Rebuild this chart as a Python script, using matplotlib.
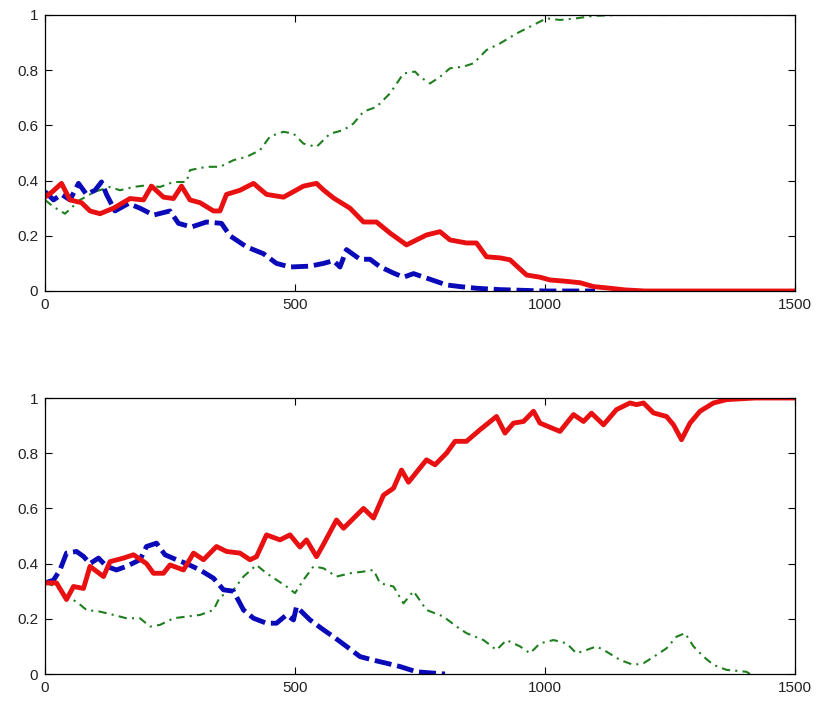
import matplotlib
matplotlib.use("Agg")
import matplotlib.pyplot as plt

# ---- top panel ----
top_red_x = [0, 15, 33, 50, 73, 90, 110, 137, 170, 197, 213, 237, 257, 273, 290, 310, 337, 350,
             363, 390, 417, 443, 477, 497, 517, 543, 557, 577, 610, 637, 663, 690, 723, 743, 763,
             790, 810, 843, 863, 883, 910, 930, 963, 990, 1010, 1043, 1070, 1097, 1130, 1160,
             1200, 1500]
top_red_y = [0.34, 0.36, 0.39, 0.33, 0.32, 0.29, 0.28, 0.30, 0.335, 0.33, 0.38, 0.34, 0.335, 0.38,
             0.33, 0.32, 0.29, 0.29, 0.35, 0.365, 0.39, 0.35, 0.34, 0.36, 0.38, 0.39, 0.366, 0.337,
             0.30, 0.25, 0.25, 0.21, 0.167, 0.185, 0.203, 0.215, 0.185, 0.174, 0.174, 0.124, 0.12,
             0.113, 0.058, 0.05, 0.04, 0.035, 0.03, 0.016, 0.01, 0.004, 0.0, 0.0]

top_blue_x = [0, 17, 33, 50, 67, 83, 100, 113, 123, 140, 167, 190, 217, 250, 267, 293, 323, 353,
              370, 403, 437, 463, 490, 530, 557, 577, 590, 603, 630, 650, 670, 697, 717, 737, 763,
              803, 830, 863, 910, 1000, 1100]
top_blue_y = [0.36, 0.33, 0.35, 0.33, 0.39, 0.35, 0.365, 0.395, 0.35, 0.29, 0.317, 0.30, 0.275,
              0.29, 0.245, 0.232, 0.25, 0.245, 0.20, 0.16, 0.135, 0.10, 0.087, 0.09, 0.10, 0.11,
              0.087, 0.15, 0.115, 0.115, 0.088, 0.065, 0.05, 0.063, 0.047, 0.022, 0.016, 0.01,
              0.005, 0.0, 0.0]

top_green_x = [0, 17, 40, 70, 100, 130, 150, 177, 203, 230, 257, 283, 290, 323, 350, 377, 403,
               430, 450, 477, 497, 517, 543, 570, 597, 617, 637, 663, 690, 717, 740, 750, 770,
               790, 810, 837, 857, 883, 910, 943, 977, 1003, 1030, 1063, 1097, 1143, 1500]
top_green_y = [0.33, 0.305, 0.28, 0.33, 0.36, 0.377, 0.365, 0.377, 0.383, 0.377, 0.395, 0.395,
               0.438, 0.45, 0.45, 0.474, 0.486, 0.51, 0.56, 0.577, 0.57, 0.534, 0.522, 0.57,
               0.583, 0.607, 0.65, 0.667, 0.716, 0.788, 0.795, 0.776, 0.752, 0.776, 0.807, 0.813,
               0.825, 0.873, 0.897, 0.933, 0.964, 0.988, 0.982, 0.988, 0.997, 1.0, 1.0]

# ---- bottom panel ----
bot_red_x = [0, 23, 43, 57, 77, 90, 117, 130, 157, 177, 203, 217, 237, 250, 277, 297, 317, 343,
             363, 390, 410, 423, 443, 470, 490, 510, 523, 543, 557, 583, 597, 637, 657, 677, 697,
             713, 727, 763, 780, 803, 820, 843, 870, 903, 920, 937, 957, 977, 990, 1030, 1057,
             1077, 1093, 1117, 1143, 1170, 1183, 1197, 1217, 1243, 1257, 1273, 1290, 1310, 1337,
             1363, 1390, 1420, 1500]
bot_red_y = [0.33, 0.33, 0.27, 0.317, 0.31, 0.39, 0.353, 0.407, 0.42, 0.432, 0.40, 0.365, 0.365,
             0.395, 0.377, 0.438, 0.414, 0.462, 0.444, 0.438, 0.414, 0.425, 0.504, 0.486, 0.504,
             0.46, 0.486, 0.425, 0.47, 0.558, 0.528, 0.60, 0.565, 0.648, 0.673, 0.739, 0.695,
             0.776, 0.758, 0.80, 0.843, 0.843, 0.885, 0.933, 0.873, 0.909, 0.915, 0.952, 0.909,
             0.879, 0.94, 0.915, 0.945, 0.903, 0.958, 0.982, 0.976, 0.982, 0.946, 0.933, 0.903,
             0.849, 0.909, 0.952, 0.982, 0.994, 0.997, 1.0, 1.0]

bot_blue_x = [0, 17, 30, 43, 63, 77, 90, 107, 123, 143, 163, 190, 203, 223, 240, 263, 283, 310,
              337, 357, 377, 397, 417, 443, 463, 483, 497, 503, 530, 557, 577, 603, 630, 657, 683,
              710, 743, 800]
bot_blue_y = [0.33, 0.34, 0.377, 0.438, 0.444, 0.426, 0.40, 0.42, 0.39, 0.377, 0.39, 0.414, 0.462,
              0.474, 0.432, 0.414, 0.40, 0.377, 0.347, 0.305, 0.30, 0.232, 0.202, 0.184, 0.184,
              0.214, 0.196, 0.244, 0.196, 0.16, 0.135, 0.10, 0.063, 0.05, 0.039, 0.027, 0.008, 0.0]

bot_green_x = [0, 23, 43, 63, 83, 110, 137, 163, 190, 210, 230, 257, 283, 310, 337, 350, 377, 397,
               423, 443, 463, 483, 500, 517, 537, 557, 583, 610, 637, 657, 670, 697, 717, 737, 763,
               797, 823, 843, 877, 903, 923, 950, 970, 990, 1017, 1043, 1063, 1083, 1103, 1123,
               1150, 1177, 1197, 1223, 1243, 1263, 1280, 1297, 1317, 1337, 1363, 1403, 1410]
bot_green_y = [0.33, 0.317, 0.28, 0.262, 0.232, 0.226, 0.214, 0.202, 0.202, 0.172, 0.178, 0.202,
               0.208, 0.214, 0.232, 0.28, 0.305, 0.353, 0.395, 0.365, 0.341, 0.317, 0.293, 0.341,
               0.39, 0.383, 0.353, 0.365, 0.371, 0.377, 0.329, 0.317, 0.256, 0.30, 0.232, 0.208,
               0.172, 0.148, 0.123, 0.087, 0.123, 0.10, 0.075, 0.111, 0.123, 0.111, 0.075, 0.087,
               0.10, 0.081, 0.051, 0.033, 0.039, 0.069, 0.093, 0.135, 0.148, 0.10, 0.063, 0.033,
               0.015, 0.008, 0.0]

xticks = [0, 500, 1000, 1500]
yticks = [0, 0.2, 0.4, 0.6, 0.8, 1]
ytick_labels = ["0", "0.2", "0.4", "0.6", "0.8", "1"]

RED = "#e81010"
BLUE = "#0a0ab8"
GREEN = "#1f7f1f"

plt.rcParams["font.family"] = ["Liberation Sans", "DejaVu Sans"]

fig = plt.figure(figsize=(8.17, 7.02), dpi=100)
ax_top = fig.add_axes([45 / 817, 411 / 702, 750 / 817, 276 / 702])
ax_bot = fig.add_axes([45 / 817, 28 / 702, 750 / 817, 276 / 702])

panels = [
    (ax_top, top_red_x, top_red_y, top_blue_x, top_blue_y, top_green_x, top_green_y),
    (ax_bot, bot_red_x, bot_red_y, bot_blue_x, bot_blue_y, bot_green_x, bot_green_y),
]

for ax, rx, ry, bx, by, gx, gy in panels:
    ax.plot(gx, gy, color=GREEN, linewidth=1.5, dashes=(4, 2.5, 1, 2.5), zorder=2)
    ax.plot(bx, by, color=BLUE, linewidth=3.5, dashes=(3.5, 1.2), zorder=3)
    ax.plot(rx, ry, color=RED, linewidth=3.5, linestyle="-", zorder=4)

    ax.set_xlim(0, 1500)
    ax.set_ylim(0, 1)
    ax.set_xticks(xticks)
    ax.set_xticklabels([str(t) for t in xticks])
    ax.set_yticks(yticks)
    ax.set_yticklabels(ytick_labels)
    ax.tick_params(direction="in", length=5, width=0.8, top=True, right=True,
                   labelsize=11, labelcolor="#222222", pad=5)
    for sp in ax.spines.values():
        sp.set_linewidth(0.9)
        sp.set_zorder(5)

fig.savefig("out.png", dpi=100, facecolor="white")
